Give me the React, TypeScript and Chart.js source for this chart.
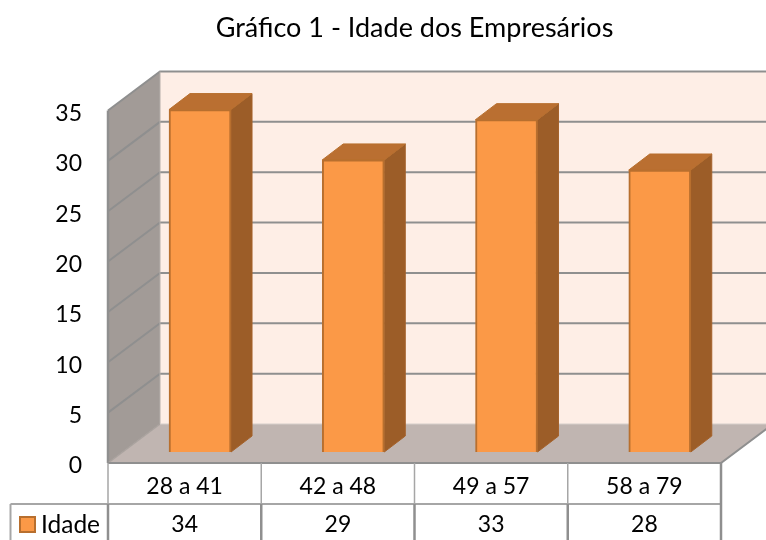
import React, { useEffect, useRef } from "react";
import { Chart, registerables } from "chart.js";

Chart.register(...registerables);

const categories = ["28 a 41", "42 a 48", "49 a 57", "58 a 79"];
const seriesName = "Idade";
const seriesValues = [34, 29, 33, 28];
const chartTitle = "Gráfico 1 - Idade dos Empresários";

const FONT = "Lato";
const DX = 52, DY = -39; // depth of the box
const BAR_DX = 15.4, BAR_DY = -11; // front face offset of bars
const SIDE_DX = 21, SIDE_DY = -16; // bar depth
const LINE = "#8F8F8F";

function poly(ctx: CanvasRenderingContext2D, pts: number[][], fill?: string, stroke?: string, lw = 2) {
  ctx.beginPath();
  pts.forEach((p, i) => (i ? ctx.lineTo(p[0], p[1]) : ctx.moveTo(p[0], p[1])));
  if (fill) {
    ctx.closePath();
    ctx.fillStyle = fill;
    ctx.fill();
  }
  if (stroke) {
    ctx.strokeStyle = stroke;
    ctx.lineWidth = lw;
    ctx.stroke();
  }
}

const box3d = {
  id: "box3d",
  afterLayout(chart: any) {
    // nudge the value labels so they sit on the reference's baseline
    const s = chart.scales.y;
    if (s.__shifted) return;
    s.__shifted = true;
    const orig = s.drawLabels;
    s.drawLabels = function (area: any) {
      this.ctx.save();
      this.ctx.translate(0, 3);
      orig.call(this, area);
      this.ctx.restore();
    };
  },
  beforeDatasetsDraw(chart: any) {
    const { ctx, chartArea: a, scales } = chart;
    const y = scales.y;
    const L = a.left, R = a.right, T = a.top, B = a.bottom;
    ctx.save();
    poly(ctx, [[L + DX, T + DY], [R + DX, T + DY], [R + DX, B + DY], [L + DX, B + DY]], "#FEEEE6");
    poly(ctx, [[L, T], [L + DX, T + DY], [L + DX, B + DY], [L, B]], "#A29B97");
    poly(ctx, [[L, B], [L + DX, B + DY], [R + DX, B + DY], [R, B]], "#C0B5B1");
    y.ticks.forEach((t: any) => {
      const py = y.getPixelForValue(t.value);
      if (t.value === 0) return;
      poly(ctx, [[L, py], [L + DX, py + DY], [R + DX, py + DY]], undefined, LINE, 2);
    });
    poly(ctx, [[L + DX, T + DY], [L + DX, B + DY]], undefined, "#B5AEAA", 1);
    poly(ctx, [[L, T], [L, B]], undefined, LINE, 2.5);
    poly(ctx, [[L, B], [L + DX, B + DY]], undefined, "#A9A29E", 1.5);
    poly(ctx, [[L + DX, B + DY], [R + DX, B + DY]], undefined, "#D6CFCB", 1);
    poly(ctx, [[L, B], [R, B], [R + DX, B + DY]], undefined, LINE, 2);
    ctx.restore();
  },
  beforeDatasetDraw(chart: any, args: any) {
    const { ctx } = chart;
    const meta = chart.getDatasetMeta(args.index);
    ctx.save();
    ctx.translate(BAR_DX, BAR_DY);
    meta.data.forEach((el: any) => {
      const { x, y, base, width } = el.getProps(["x", "y", "base", "width"], true);
      const r = x + width / 2, l = x - width / 2;
      poly(ctx, [[r, y], [r + SIDE_DX, y + SIDE_DY], [r + SIDE_DX, base + SIDE_DY], [r, base]], "#9C5D28", "#A5622B", 1);
      poly(ctx, [[l, y], [l + SIDE_DX, y + SIDE_DY], [r + SIDE_DX, y + SIDE_DY], [r, y]], "#BA6F31", "#B86F2E", 1);
    });
  },
  afterDatasetDraw(chart: any) {
    chart.ctx.restore();
  },
  afterDraw(chart: any) {
    const { ctx, chartArea: a, scales } = chart;
    const x = scales.x;
    const L = a.left, R = a.right, B = a.bottom;
    const rowY = 504, endY = 541;
    ctx.save();
    // table grid
    poly(ctx, [[10.5, rowY], [R, rowY]], undefined, "#A6A6A6", 2);
    poly(ctx, [[10.5, rowY], [10.5, endY]], undefined, "#A6A6A6", 2);
    const colW = (R - L) / categories.length;
    for (let i = 0; i <= categories.length; i++) {
      const cx = L + i * colW;
      const last = i === categories.length;
      poly(ctx, [[cx, B], [cx, rowY]], undefined, last ? "#8F8F8F" : "#A6A6A6", last ? 2.5 : 1.5);
      poly(ctx, [[cx, rowY], [cx, endY]], undefined, "#8F8F8F", 2.5);
    }
    // values
    ctx.fillStyle = "#000";
    ctx.font = `23px ${FONT}`;
    ctx.textAlign = "center";
    ctx.textBaseline = "middle";
    seriesValues.forEach((v, i) => ctx.fillText(String(v), x.getPixelForTick(i), 525));
    // legend key
    ctx.textAlign = "left";
    ctx.font = `24.5px ${FONT}`;
    ctx.fillText(seriesName, 41, 525);
    ctx.fillStyle = "#FB9947";
    ctx.strokeStyle = "#B86F2E";
    ctx.lineWidth = 2;
    ctx.fillRect(20, 517, 15, 15);
    ctx.strokeRect(20, 517, 15, 15);
    ctx.restore();
  },
};

export default function App() {
  const ref = useRef<HTMLCanvasElement | null>(null);
  useEffect(() => {
    if (!ref.current) return;
    const chart = new Chart(ref.current, {
      type: "bar",
      data: {
        labels: categories,
        datasets: [
          {
            label: seriesName,
            data: seriesValues,
            backgroundColor: "#FB9947",
            borderColor: "#B86F2E",
            borderWidth: 2,
            barThickness: 62,
            clip: false,
          } as any,
        ],
      },
      options: {
        responsive: false,
        animation: false,
        layout: { padding: { left: 0, right: 45, top: 0, bottom: 0 } },
        plugins: {
          legend: { display: false },
          tooltip: { enabled: false },
          title: {
            display: true,
            text: chartTitle,
            fullSize: false,
            color: "#000",
            font: { family: FONT, size: 27, weight: "normal", lineHeight: 1.2 },
            padding: { top: 12, bottom: 66.1 },
          },
        },
        scales: {
          x: {
            grid: { display: false },
            border: { display: false },
            ticks: { color: "#000", font: { family: FONT, size: 23 }, padding: 2, maxRotation: 0, minRotation: 0 },
            afterFit: (s: any) => {
              s.height = 77;
            },
          },
          y: {
            min: 0,
            max: 35,
            grid: { display: false },
            border: { display: false },
            ticks: { stepSize: 5, color: "#000", font: { family: FONT, size: 23 }, padding: 18 },
            afterFit: (s: any) => {
              s.width = 108;
            },
          },
        },
      },
      plugins: [box3d],
    } as any);
    return () => chart.destroy();
  }, []);
  return (
    <div style={{ position: "absolute", left: 0, top: 0, width: 766, height: 540, background: "#fff", overflow: "hidden" }}>
      <canvas ref={ref} width={766} height={540} style={{ display: "block" }} />
    </div>
  );
}
